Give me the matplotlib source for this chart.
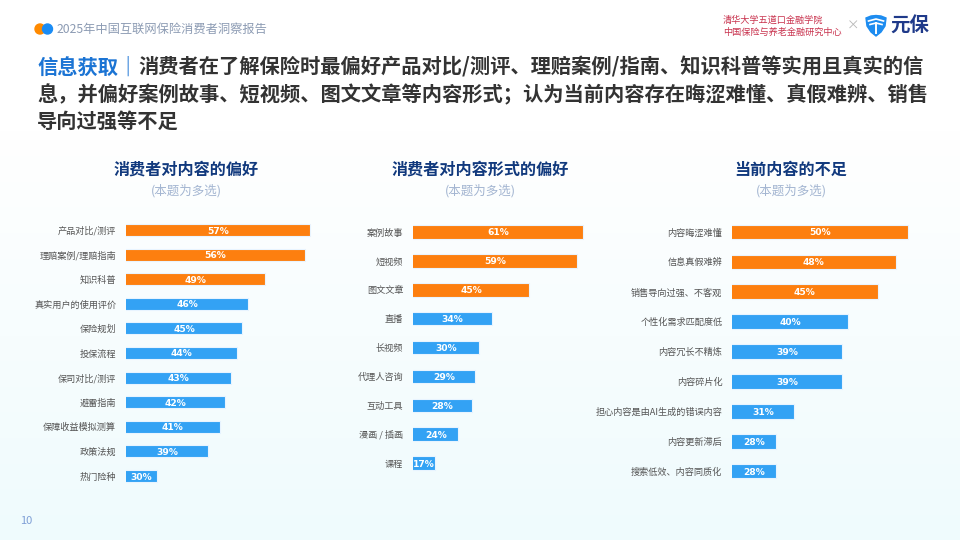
import matplotlib
matplotlib.use("Agg")
import matplotlib.pyplot as plt
from matplotlib.patches import Circle, Polygon
import numpy as np

plt.rcParams["font.family"] = ["Noto Sans CJK SC", "DejaVu Sans"]

# data
pref_labels = ["产品对比/测评", "理赔案例/理赔指南", "知识科普", "真实用户的使用评价", "保险规划",
               "投保流程", "保司对比/测评", "避雷指南", "保障收益模拟测算", "政策法规", "热门险种"]
pref_values = [57, 56, 49, 46, 45, 44, 43, 42, 41, 39, 30]
form_labels = ["案例故事", "短视频", "图文文章", "直播", "长视频", "代理人咨询", "互动工具", "漫画 / 插画", "课程"]
form_values = [61, 59, 45, 34, 30, 29, 28, 24, 17]
lack_labels = ["内容晦涩难懂", "信息真假难辨", "销售导向过强、不客观", "个性化需求匹配度低", "内容冗长不精炼",
               "内容碎片化", "担心内容是由AI生成的错误内容", "内容更新滞后", "搜索低效、内容同质化"]
lack_values = [50, 48, 45, 40, 39, 39, 31, 28, 28]
panel_titles = ["消费者对内容的偏好", "消费者对内容形式的偏好", "当前内容的不足"]
subtitle = "(本题为多选)"
report_name = "2025年中国互联网保险消费者洞察报告"
headline_key = "信息获取｜"
headline = ["消费者在了解保险时最偏好产品对比/测评、理赔案例/指南、知识科普等实用且真实的信",
            "息，并偏好案例故事、短视频、图文文章等内容形式；认为当前内容存在晦涩难懂、真假难辨、销售",
            "导向过强等不足"]

ORANGE = "#fd7f0f"
BLUE = "#33a2f4"
NAVY = "#11397d"
W, H = 960, 540

fig = plt.figure(figsize=(9.6, 5.4), dpi=100)

# background in pixel coordinates
bg = fig.add_axes([0, 0, 1, 1], zorder=0)
grad = np.ones((H, 1, 3))
yy = np.arange(H)
t = np.clip((yy - 130) / (H - 130), 0, 1)
end = np.array([0xef, 0xfb, 0xfd]) / 255
for k in range(3):
    grad[:, 0, k] = 1 + (end[k] - 1) * t
bg.imshow(grad, extent=[0, W, H, 0], aspect="auto")
bg.set_xlim(0, W); bg.set_ylim(H, 0); bg.axis("off")

# header
bg.add_patch(Circle((40, 29), 5, color="#ff8a00"))
bg.add_patch(Circle((47.5, 29), 5, color="#1a8cf5"))
bg.text(57, 29.5, report_name, color="#8c9bb3", fontsize=8.8, va="center")
bg.text(723, 20, "清华大学五道口金融学院", color="#c9344f", fontsize=6.6, va="center")
bg.text(723, 32, "中国保险与养老金融研究中心", color="#c9344f", fontsize=6.6, va="center")
bg.text(853, 26, "×", color="#b8b8b8", fontsize=9, va="center", ha="center")
bg.add_patch(Polygon([(866, 18), (871, 16), (876, 15.5), (881, 16), (886, 18), (885, 26),
                      (881, 32), (876, 36), (871, 32), (867, 26)], closed=True, color="#1d8cf0"))
bg.plot([868.5, 876, 883.5], [21, 19, 21], color="white", lw=1.2)
bg.plot([870, 876, 882], [24.5, 23, 24.5], color="white", lw=1.2)
bg.plot([876, 876], [23, 33], color="white", lw=1.4)
bg.text(890, 26, "元保", color="#1f3a8a", fontsize=14, fontweight="bold", va="center")
bg.text(20, 521, "10", color="#7f9fd6", fontsize=8, va="center")

# headline with a blue lead-in
renderer = fig.canvas.get_renderer()
key = bg.text(37, 67, headline_key, color="#1b74d4", fontsize=14.6, fontweight="bold", va="center")
bb = key.get_window_extent(renderer)
bg.text(bb.x1, 67, headline[0], color="#333333", fontsize=14.6, fontweight="bold", va="center")
for i, line in enumerate(headline[1:]):
    bg.text(37, 95 + 26 * i, line, color="#333333", fontsize=14.6, fontweight="bold", va="center")


def panel(left, x0, x1, slope, top, step, bar_h, labels, values, title, cx):
    n = len(values)
    w = (x1 - x0) * slope
    h = n * step
    ax = fig.add_axes([left / W, 1 - (top + h) / H, w / W, h / H], zorder=2)
    ax.set_facecolor("none")
    y = np.arange(n)
    colors = [ORANGE if i < 3 else BLUE for i in range(n)]
    ax.barh(y, values, height=bar_h, color=colors, edgecolor="#e8f4ff", linewidth=0.8)
    for yi, v in zip(y, values):
        ax.text((x0 + v) / 2, yi, f"{v}%", color="white", fontsize=6.6, fontweight="bold",
                family="DejaVu Sans", ha="center", va="center_baseline")
    ax.set_xlim(x0, x1)
    ax.set_ylim(n - 0.5, -0.5)
    ax.set_xticks([])
    ax.set_yticks(y, labels)
    ax.tick_params(axis="y", length=0, pad=7, labelsize=6.6, labelcolor="#555555")
    for s in ax.spines.values():
        s.set_visible(False)
    bg.text(cx, 170, title, color=NAVY, fontsize=11.6, fontweight="bold", ha="center", va="center")
    bg.text(cx, 191, subtitle, color="#a3b5d1", fontsize=9, ha="center", va="center")


panel(126, 24.5, 60, 5.67, 217.7, 24.6, 0.49, pref_labels, pref_values, panel_titles[0], 186)
panel(413, 10.6, 62, 3.38, 217.5, 28.9, 0.47, form_labels, form_values, panel_titles[1], 480)
panel(732, 20.7, 52, 6.0, 217, 29.9, 0.49, lack_labels, lack_values, panel_titles[2], 791)

fig.savefig("out.png", dpi=100)
